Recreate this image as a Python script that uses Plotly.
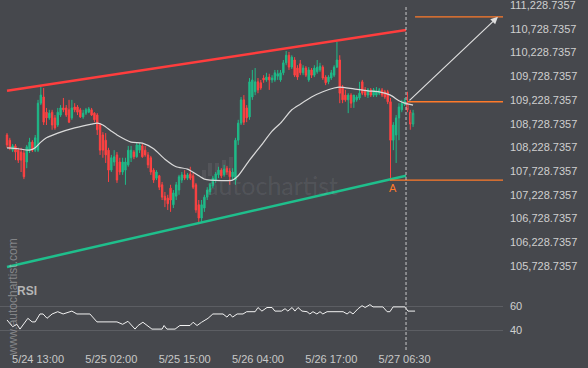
import plotly.graph_objects as go

W, H = 588, 368
BG = "#46484d"
GREEN = "#1fba88"
RED = "#ff4242"
ORANGE = "#ff7a2a"

# ---------------- data ----------------
open_ = [108490, 108380, 108170, 108260, 108170, 108130, 108110, 107920, 108170, 108340,
         108170, 108170, 109160, 109290, 108970, 108850, 108970, 108850, 108700, 108910,
         109060, 109060, 109020, 108850, 109080, 109080, 109020, 108870, 108950, 108970,
         109020, 108950, 108910, 108700, 108490, 108380, 108170, 107750, 107920, 108070,
         107920, 107710, 107750, 107860, 108010, 108130, 108030, 108170, 108260, 108170,
         108070, 108010, 107750, 107580, 107630, 107440, 107200, 107160, 107370, 107020,
         107200, 107330, 107540, 107650, 107580, 107670, 107630, 107440, 107020, 106740,
         106950, 107180, 107290, 107420, 107540, 107650, 107750, 107650, 107790, 107730,
         107610, 107540, 108380, 108740, 109230, 109060, 108870, 109290, 109400, 109610,
         109590, 109690, 109650, 109710, 109650, 109650, 109730, 109650, 109800, 110010,
         110170, 109920, 110070, 109900, 109990, 109800, 109900, 109650, 109860, 109750,
         109820, 109860, 109920, 109710, 109610, 109690, 109750, 109920, 110070, 109500,
         109330, 109230, 109330, 109190, 109230, 109270, 109610, 109440, 109330, 109440,
         109330, 109330, 109370, 109440, 109400, 109400, 109190, 108380, 108490, 108850,
         109020, 109140, 109140, 108970, 108720]
high = [108530, 108430, 108300, 108300, 108220, 108220, 108170, 108280, 108430, 108380,
        108490, 109230, 109500, 109480, 109060, 109020, 109020, 108910, 109060, 109120,
        109270, 109120, 109230, 109230, 109160, 109120, 109060, 109020, 109060, 109080,
        109060, 108970, 108950, 108740, 108550, 108530, 108220, 108070, 108170, 108130,
        108010, 108010, 108010, 108260, 108260, 108170, 108340, 108320, 108300, 108260,
        108130, 108050, 107790, 107750, 107650, 107500, 107290, 107230, 107440, 107330,
        107500, 107650, 107710, 107750, 107690, 107820, 107690, 107480, 107120, 107120,
        107230, 107390, 107480, 107630, 107710, 107820, 107790, 107860, 107840, 107790,
        107790, 108430, 108810, 109290, 109330, 109120, 109690, 109860, 109900, 109690,
        109650, 109750, 109800, 109780, 109750, 109860, 109860, 109860, 110070, 110260,
        110240, 110170, 110130, 109960, 110070, 109960, 109940, 109920, 109900, 109960,
        110070, 110010, 109960, 109750, 109750, 109860, 109960, 110450, 110170, 109540,
        109440, 109370, 109370, 109310, 109330, 109610, 109650, 109500, 109480, 109480,
        109480, 109500, 109480, 109480, 109440, 109440, 109270, 108760, 108910, 109160,
        109230, 109270, 109400, 109020, 109020]
low = [108220, 108170, 108130, 107960, 107900, 107710, 107560, 107790, 108110, 108130,
       108130, 108130, 109120, 108700, 108700, 108810, 108600, 108600, 108660, 108870,
       108970, 108870, 108740, 108810, 108970, 108910, 108850, 108830, 108910, 108950,
       108890, 108760, 108490, 108070, 108010, 107900, 107500, 107710, 107840, 107480,
       107650, 107650, 107440, 107820, 107920, 107980, 108010, 108110, 108010, 108030,
       107790, 107650, 107480, 107540, 107330, 107120, 106970, 106910, 106870, 106950,
       107120, 107230, 107480, 107540, 107540, 107540, 107350, 106850, 106640, 106660,
       106870, 107120, 107230, 107370, 107480, 107580, 107580, 107610, 107650, 107440,
       107540, 107440, 108280, 108700, 108700, 108760, 108810, 109230, 109330, 109370,
       109440, 109590, 109610, 109440, 109590, 109610, 109650, 109610, 109750, 109960,
       109860, 109880, 109710, 109650, 109750, 109750, 109710, 109610, 109690, 109710,
       109780, 109820, 109650, 109540, 109560, 109650, 109710, 109900, 109160, 109160,
       109190, 108950, 109060, 109060, 109190, 109230, 109330, 109290, 109270, 109290,
       109290, 109290, 109330, 109290, 109250, 109140, 107540, 108170, 107900, 108380,
       108970, 109100, 108970, 108600, 108660]
close = [108280, 108220, 108260, 108130, 107960, 107960, 107610, 108240, 108340, 108170,
         108430, 109160, 109330, 108760, 108850, 108950, 108700, 108640, 108970, 109060,
         109020, 108910, 108760, 109060, 109020, 108970, 108870, 108950, 109020, 109040,
         108910, 108810, 108600, 108170, 108170, 108070, 107750, 108010, 108030, 107540,
         107710, 107920, 107920, 108170, 108170, 108030, 108280, 108280, 108030, 108070,
         107860, 107710, 107540, 107710, 107390, 107180, 107120, 107040, 107120, 107270,
         107440, 107610, 107650, 107580, 107650, 107580, 107390, 106910, 106740, 107020,
         107180, 107330, 107440, 107580, 107670, 107750, 107630, 107770, 107710, 107610,
         107710, 108380, 108740, 109230, 108760, 108850, 109610, 109650, 109610, 109440,
         109480, 109650, 109710, 109650, 109690, 109800, 109780, 109800, 110010, 110170,
         109920, 110130, 109750, 109710, 109800, 109900, 109750, 109860, 109750, 109900,
         109920, 109940, 109690, 109590, 109710, 109800, 109920, 110070, 109370, 109230,
         109230, 109330, 109160, 109330, 109290, 109370, 109370, 109330, 109440, 109330,
         109440, 109420, 109440, 109330, 109290, 109190, 108380, 108700, 108850, 109080,
         109160, 109210, 109020, 108720, 108950]
n_solid = 142  # last candles still forming (drawn hollow)

ma_idx = [0, 4, 8, 10, 12, 14, 18, 24, 30, 32, 34, 37, 39, 44, 48, 52, 56, 60, 64, 68,
          70, 72, 80, 82, 86, 90, 94, 97, 101, 104, 108, 112, 116, 118, 123, 128, 132,
          136, 139, 141, 144]
ma_val = [108220, 108200, 108170, 108220, 108340, 108430, 108530, 108640, 108720, 108740,
          108700, 108570, 108490, 108340, 108320, 108200, 107980, 107820, 107770, 107630,
          107560, 107540, 107540, 107630, 107960, 108260, 108570, 108740, 109020, 109140,
          109290, 109400, 109480, 109500, 109460, 109420, 109400, 109330, 109210, 109160,
          109120]

rsi_idx = [0, 2, 3.5, 4.6, 7.4, 8.9, 10, 11.7, 12.8, 14.2, 16, 18, 19.9, 23, 24.8, 29.4,
           31.9, 39, 41, 42.9, 45.4, 46.5, 48.2, 49.6, 51.4, 55, 55.7, 56.7, 59.6, 61.3,
           64.9, 66, 67.4, 69, 71.3, 73, 76.6, 78, 79, 80, 81.6, 83.7, 85, 88, 89, 90.4,
           92.2, 94, 95, 97.3, 98.6, 99.6, 101.1, 102.1, 103.2, 104.6, 106.4, 107.4, 108.5,
           109.9, 111, 112, 113.5, 119.2, 120.6, 121.6, 122.7, 124.5, 125.9, 127, 128.7,
           129.8, 131.2, 133.3, 134.8, 135.8, 136.9, 141.1, 142.2, 144.7]
rsi_val = [48.6, 43, 45, 41, 50, 47, 47, 53.6, 53.6, 50, 53.6, 55.5, 53.6, 56, 53.6, 53.6,
           47, 47, 45, 47.5, 41, 44, 46.7, 44, 41, 41, 44, 41, 41, 44,
           44, 46.7, 44, 46.7, 50, 53.6, 53.6, 51, 53.6, 51, 53.6, 53.6, 55.5, 55.5, 59, 56,
           59, 59, 56, 56, 58, 56, 59, 56, 59, 56, 55.5, 53.6, 55.5,
           53.6, 55.5, 53.6, 55.5, 55.5, 53.6, 55.5, 53.6, 58, 60.5, 59, 61.4,
           59.5, 59.5, 59.5, 55.5, 55.5, 59.5, 59.5, 56, 56]

price_ticks = [105728.7357, 106228.7357, 106728.7357, 107228.7357, 107728.7357, 108228.7357,
               108728.7357, 109228.7357, 109728.7357, 110228.7357, 110728.7357, 111228.7357]
price_tick_text = ["105,728.7357", "106,228.7357", "106,728.7357", "107,228.7357",
                   "107,728.7357", "108,228.7357", "108,728.7357", "109,228.7357",
                   "109,728.7357", "110,228.7357", "110,728.7357", "111,228.7357"]
rsi_ticks = [40, 60]
x_ticks = [11, 37, 63, 89, 115, 141]
x_tick_text = ["5/24 13:00", "5/25 02:00", "5/25 15:00", "5/26 04:00", "5/26 17:00", "5/27 06:30"]

channel_x = [0, 141.5]
upper_channel = [109420, 110700]
lower_channel = [105710, 107630]

level_vals = [110980, 109190, 107540]
level_start = [144.7, 142.2, 135.8]
arrow_from = (142.2, 109190)
arrow_to = (174.1, 110980)
point_a = (136.8, 107540)
now_idx = 141.5

# ---------------- layout geometry ----------------
X_RANGE = [-2.482, 175.89]
PLOT_W = 503 / W
MAIN_DOM = [1 - 280 / H, 1]
RSI_DOM = [1 - 345 / H, 1 - 283 / H]
PRICE_RANGE = [105434.4, 111334]
RSI_RANGE = [27.75, 79.42]

idx = list(range(len(close)))
fig = go.Figure()

fig.add_trace(go.Candlestick(
    x=idx[:n_solid], open=open_[:n_solid], high=high[:n_solid], low=low[:n_solid],
    close=close[:n_solid],
    increasing=dict(line=dict(color=GREEN, width=1), fillcolor=GREEN),
    decreasing=dict(line=dict(color=RED, width=1), fillcolor=RED),
    whiskerwidth=0, hoverinfo="skip", xaxis="x", yaxis="y"))
fig.add_trace(go.Candlestick(
    x=idx[n_solid:], open=open_[n_solid:], high=high[n_solid:], low=low[n_solid:],
    close=close[n_solid:],
    increasing=dict(line=dict(color=GREEN, width=1), fillcolor=BG),
    decreasing=dict(line=dict(color=RED, width=1), fillcolor=BG),
    whiskerwidth=0, hoverinfo="skip", xaxis="x", yaxis="y"))

fig.add_trace(go.Scatter(x=ma_idx, y=ma_val, mode="lines",
                         line=dict(color="#dadada", width=1.2, shape="spline", smoothing=0.6),
                         hoverinfo="skip", xaxis="x", yaxis="y"))
fig.add_trace(go.Scatter(x=channel_x, y=upper_channel, mode="lines", line=dict(color="#ff3d3d", width=2.5),
                         hoverinfo="skip", xaxis="x", yaxis="y"))
fig.add_trace(go.Scatter(x=channel_x, y=lower_channel, mode="lines", line=dict(color="#1fbf8c", width=2.5),
                         hoverinfo="skip", xaxis="x", yaxis="y"))
for v, s in zip(level_vals, level_start):
    fig.add_trace(go.Scatter(x=[s, X_RANGE[1]], y=[v, v], mode="lines", line=dict(color=ORANGE, width=1.3),
                             hoverinfo="skip", xaxis="x", yaxis="y"))

fig.add_trace(go.Scatter(x=rsi_idx, y=rsi_val, mode="lines", line=dict(color="#f2f2f2", width=1),
                         hoverinfo="skip", xaxis="x", yaxis="y2"))

shapes = [dict(type="line", xref="x", yref="paper", x0=now_idx, x1=now_idx,
               y0=1 - 350 / H, y1=1 - 5 / H, line=dict(color="#c9c9c9", width=1, dash="3px,2px"))]
# watermark logo bars
for x0, x1, y0, y1 in [(202, 206, 170, 178), (208, 212, 163, 176), (215, 219, 163, 174),
                       (222, 226, 160, 173), (229, 233, 157, 171)]:
    shapes.append(dict(type="rect", xref="paper", yref="paper", x0=x0 / W, x1=x1 / W,
                       y0=1 - y1 / H, y1=1 - y0 / H, fillcolor="rgba(255,255,255,0.07)",
                       line=dict(width=0), layer="below"))

annotations = [
    dict(x=arrow_to[0], y=arrow_to[1], ax=arrow_from[0], ay=arrow_from[1], xref="x", yref="y",
         axref="x", ayref="y", showarrow=True, arrowhead=2, arrowsize=1.2, arrowwidth=1.2,
         arrowcolor="#dedede", text=""),
    dict(x=point_a[0], y=point_a[1], xref="x", yref="y", text="A", showarrow=False,
         yshift=-8, xanchor="center", yanchor="middle",
         font=dict(color=ORANGE, size=11, family="Liberation Sans")),
    dict(x=272 / W, y=1 - 185 / H, xref="paper", yref="paper", text="autochartist", showarrow=False,
         xanchor="center", yanchor="middle",
         font=dict(color="rgba(255,255,255,0.08)", size=25, family="Lato")),
    dict(x=13 / W, y=1 - 297 / H, xref="paper", yref="paper", text="www.autochartist.com",
         textangle=-90, showarrow=False, xanchor="center", yanchor="middle",
         font=dict(color="rgba(210,210,210,0.45)", size=12, family="Liberation Sans")),
    dict(x=15 / W, y=1 - 291 / H, xref="paper", yref="paper", text="<b>RSI</b>", xanchor="left",
         yanchor="middle", showarrow=False,
         font=dict(color="#b5b5b5", size=12, family="Liberation Sans")),
]

fig.update_layout(
    width=W, height=H, margin=dict(l=0, r=0, t=0, b=0),
    paper_bgcolor=BG, plot_bgcolor=BG, showlegend=False, hovermode=False,
    shapes=shapes, annotations=annotations,
    font=dict(family="Liberation Sans", color="#cfcfcf", size=11),
    xaxis=dict(domain=[0, PLOT_W], range=X_RANGE, anchor="y2", showgrid=False, zeroline=False,
               showline=False, ticks="", tickvals=x_ticks, ticktext=x_tick_text,
               tickfont=dict(size=11, color="#c8c8c8"), rangeslider=dict(visible=False),
               ticklabelstandoff=6, fixedrange=True),
    yaxis=dict(domain=MAIN_DOM, range=PRICE_RANGE, side="right", anchor="x", showgrid=False,
               zeroline=False, showline=False, ticks="", tickvals=price_ticks,
               ticktext=price_tick_text, tickfont=dict(size=11, color="#cfcfcf"),
               ticklabelstandoff=6, ticklabeloverflow="allow", fixedrange=True),
    yaxis2=dict(domain=RSI_DOM, range=RSI_RANGE, side="right", anchor="x", showgrid=True,
                gridcolor="#5c5e63", gridwidth=1, zeroline=False, showline=False, ticks="",
                tickvals=rsi_ticks, ticktext=["40", "60"], tickfont=dict(size=11, color="#cfcfcf"),
                ticklabelstandoff=6, ticklabeloverflow="allow", fixedrange=True),
)

fig.write_html("out.html")
